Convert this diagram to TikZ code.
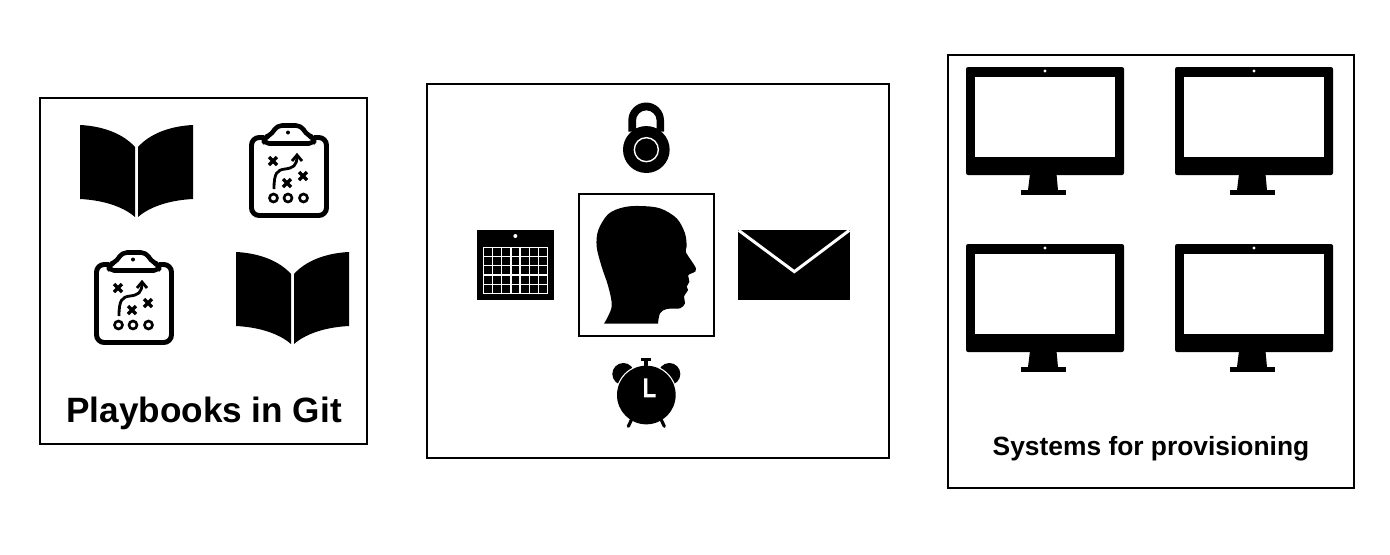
\documentclass[tikz,border=0pt]{standalone}
\usepackage{fontspec}
\setmainfont{Liberation Sans}
\tikzset{
	boxline/.style={draw=black,line width=.55pt},
	boxtitle/.style={anchor=base,font=\bfseries},
	markline/.style={line width=.95pt},
	pics/bookicon/.style={code={
		\fill (-56.5,0) .. controls (-35,1) and (-14,8) .. (-1.5,22) -- (-1.5,92)
			.. controls (-14,81) and (-35,75) .. (-56.5,74) -- cycle;
		\fill (56.5,0) .. controls (35,1) and (14,8) .. (1.5,22) -- (1.5,92)
			.. controls (14,81) and (35,75) .. (56.5,74) -- cycle;
	}},
	pics/playicon/.style={code={
		% zero is the top left of the board
		\draw[line width=1.4pt,rounded corners=2.2pt] (15,14.500) -- (2.500,14.500) -- (2.500,92.500) -- (77.500,92.500) -- (77.500,14.500) -- (65,14.500);
		\draw[line width=1.3pt,line join=round,rounded corners=1.4pt,fill=white] (15,20.500) -- (15,14.500) -- (22,12) -- (28,2.500) -- (52,2.500) -- (58,12) -- (65,14.500) -- (65,20.500) -- cycle;
		\fill (39,9.500) circle (2);
		\foreach \mx/\my in {24/38,54/53,38/60}{
			\draw[markline] (\mx-4,\my-4) -- (\mx+4,\my+4) (\mx-4,\my+4) -- (\mx+4,\my-4);
		}
		\foreach \cx in {24.5,39,54.5}
		\draw[line width=.75pt] (\cx,75) circle (4);
		\draw[line width=.8pt] (25,66) .. controls (25,50) and (28,47) .. (36,46)
			.. controls (44,45) and (48,43) .. (48,33);
		\draw[line width=.8pt] (43,38) -- (48,32) -- (53,38);
	}},
	pics/screenicon/.style={code={
		% zero is the top left of the frame
		\fill[rounded corners=.6pt] (0,0) rectangle (158,108);
		\fill[white] (9,10) rectangle (149,90);
		\fill[white] (79,4) circle (1.7);
		\fill (64,107) -- (62,123) -- (92,123) -- (90.500,107) -- cycle;
		\fill (55,123) rectangle (100,128);
	}},
}
\begin{document}
\begin{tikzpicture}[x=.01cm,y=-.01cm]
	\useasboundingbox (0,0) rectangle (1390,554);
	\draw[boxline] (40,98) rectangle (367,444);
	\draw[boxline] (427,84) rectangle (889,458);
	\draw[boxline] (579,194) rectangle (714,336);
	\draw[boxline] (948,55) rectangle (1354,488);
	% left box
	\path (136.5,125) pic {bookicon};
	\path (292.5,252) pic {bookicon};
	\path (249,123) pic {playicon};
	\path (94,250) pic {playicon};
	\node[boxtitle,font=\bfseries\fontsize{10}{12}\selectfont] (gittitle) at (204,422) {Playbooks in Git};
	% middle box, numbers are read off the crop
	\begin{scope}[shift={(460,90)},x=.01cm/3,y=-.01cm/3]
		% head
		\fill plot[smooth,tension=.55] coordinates {(432,701) (455,650) (445,590) (425,530) (410,470) (415,420) (445,372) (490,352) (540,348) (600,355) (650,385) (675,430) (680,470) (678,487) (708,535) (700,548) (685,555) (688,575) (680,590) (684,600) (672,620) (675,640) (660,655) (620,657) (600,670) (594,701)} -- cycle;
		% lock
		\fill[even odd rule] (505,125) -- (505,91) arc[start angle=180,end angle=360,radius=53.500] -- (612,125) -- cycle
			(528,116) .. controls (545,106) and (573,106) .. (590,116) -- (590,92) arc[start angle=0,end angle=-180,radius=31] -- cycle;
		\fill (559,179) circle (70);
		\draw[white,line width=.4pt] (559,179) circle (36);
		% calendar
		\fill (50,420) rectangle (282,630);
		\fill[white] (166,438) circle (6);
		\draw[white,line width=.35pt] (70,472) rectangle (263,610);
		\foreach \i in {1,...,6}
		\draw[white,line width=.35pt] (70+\i*27.570,472) -- (70+\i*27.570,610);
		\foreach \i in {1,...,4}
		\draw[white,line width=.35pt] (70,472+\i*27.600) -- (263,472+\i*27.600);
		% envelope
		\fill (834,420) rectangle (1170,630);
		\draw[white,line width=.85pt] (836,421) -- (1003,545) -- (1168,421);
		% clock
		\fill (490,852) circle (33);
		\fill (628,852) circle (33);
		\fill[white] (559,915) circle (91.500);
		\fill (559,915) circle (88);
		\fill (543,804) rectangle (574,812);
		\fill (552,812) rectangle (565,827);
		\draw[line width=.9pt,line cap=round] (514,990) -- (505,1009);
		\draw[line width=.9pt,line cap=round] (604,990) -- (613,1009);
		\fill[white] (552,865) -- (562,865) -- (562,912) -- (587,912) -- (587,922) -- (552,922) -- cycle;
	\end{scope}
	% right box
	\foreach \sx in {966,1175}
	\foreach \sy in {67,244}
	\path (\sx,\sy) pic {screenicon};
	\node[boxtitle,font=\bfseries\fontsize{7.5}{9}\selectfont] (systitle) at (1151,455) {Systems for provisioning};
\end{tikzpicture}
\end{document}
